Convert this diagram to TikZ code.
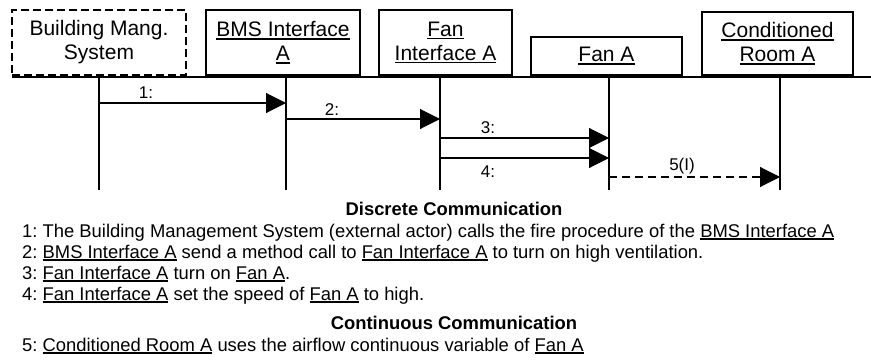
\documentclass[tikz,border=0pt]{standalone}
\usepackage{fontspec}
\setmainfont{Liberation Sans}
\usetikzlibrary{arrows.meta}
\frenchspacing
\newcommand{\myul}[1]{\setbox0=\hbox{#1}\rlap{\vrule height -0.075em depth 0.15em width \wd0}\box0\relax}
\tikzset{
  obj/.style={draw, line width=1.6pt, inner sep=0pt, align=center,
    font=\fontsize{21}{24}\selectfont},
  actor/.style={obj, dash pattern=on 8pt off 4pt},
  life/.style={line width=1.1pt},
  msg/.style={line width=1.1pt, -{Triangle[length=20pt,width=20pt]}},
  cmsg/.style={msg, dash pattern=on 8pt off 5pt},
  lbl/.style={inner sep=0pt, anchor=base, font=\fontsize{17}{19}\selectfont},
  txt/.style={inner sep=0pt, anchor=base west, font=\fontsize{18.4}{21}\selectfont},
  hdr/.style={inner sep=0pt, anchor=base, font=\fontsize{18.4}{21}\selectfont\bfseries}
}
\begin{document}
\begin{tikzpicture}[x=1pt,y=-1pt]
\useasboundingbox (0,0) rectangle (871,362);
% objects
\node[actor, minimum width=174pt, minimum height=65pt] (bms) at (99,42.5) {Building Mang.\\System};
\node[obj, minimum width=154pt, minimum height=65pt] (bmsi) at (283,42.5) {\myul{BMS Interface}\\\myul{A}};
\node[obj, minimum width=133pt, minimum height=65pt] (fani) at (445.5,42.5) {\myul{Fan}\\\myul{Interface A}};
\node[obj, minimum width=151pt, minimum height=38pt] (fan) at (606.5,56) {\myul{Fan A}};
\node[obj, minimum width=151pt, minimum height=63pt] (room) at (777.5,43.5) {\myul{Conditioned}\\\myul{Room A}};
% base line
\coordinate (bl) at (12,77);
\coordinate (br) at (871,77);
\draw[line width=2pt] (bl) -- (br);
% lifelines
\coordinate (l1) at (99,77);
\coordinate (l2) at (286,77);
\coordinate (l3) at (440,77);
\coordinate (l4) at (609,77);
\coordinate (l5) at (780,77);
\foreach \l in {l1,l2,l3,l4,l5}
  \draw[life] (\l) -- ([yshift=-113pt]\l);
% messages
\draw[msg] ([yshift=-26pt]l1) -- ([yshift=-26pt]l2);
\draw[msg] ([yshift=-42pt]l2) -- ([yshift=-42pt]l3);
\draw[msg] ([yshift=-61pt]l3) -- ([yshift=-61pt]l4);
\draw[msg] ([yshift=-81pt]l3) -- ([yshift=-81pt]l4);
\draw[cmsg] ([yshift=-100pt]l4) -- ([yshift=-100pt]l5);
\node[lbl] (m1) at (146,98) {1:};
\node[lbl] (m2) at (332,115) {2:};
\node[lbl] (m3) at (488,133) {3:};
\node[lbl] (m4) at (488,177) {4:};
\node[lbl] (m5) at (682,170) {5(I)};
% description
\node[hdr] (h1) at (454,215) {Discrete Communication};
\node[txt] (t1) at (22,237) {1: The Building Management System (external actor) calls the fire procedure of the \myul{BMS Interface A}};
\node[txt] (t2) at (22,258) {2: \myul{BMS Interface A} send a method call to \myul{Fan Interface A} to turn on high ventilation.};
\node[txt] (t3) at (22,279) {3: \myul{Fan Interface A} turn on \myul{Fan A}.};
\node[txt] (t4) at (22,300) {4: \myul{Fan Interface A} set the speed of \myul{Fan A} to high.};
\node[hdr] (h2) at (454,329) {Continuous Communication};
\node[txt] (t5) at (22,351) {5: \myul{Conditioned Room A} uses the airflow continuous variable of \myul{Fan A}};
\end{tikzpicture}
\end{document}
